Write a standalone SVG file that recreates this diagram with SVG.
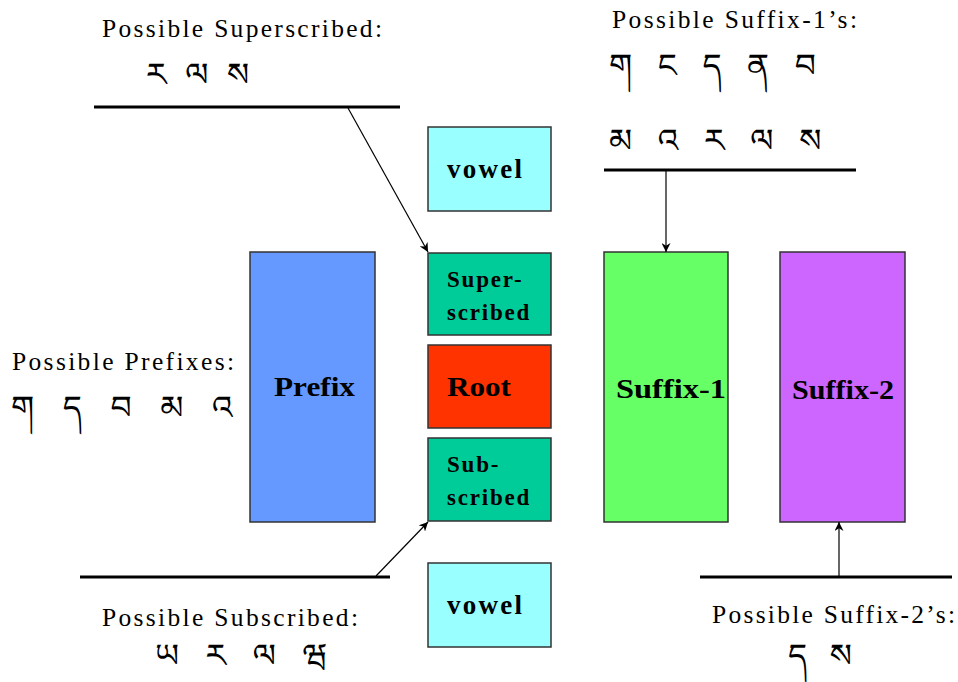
<svg xmlns="http://www.w3.org/2000/svg" width="958" height="682" viewBox="0 0 958 682">
  <style>
    .cap { font-family: "Liberation Serif", "Times New Roman", serif; font-size: 25.5px; fill: #000; }
    .tib { font-family: "Noto Serif Tibetan", "Noto Sans Tibetan", "Jomolhari", "Microsoft Himalaya", "DejaVu Sans", serif; font-size: 33px; fill: #000; }
    .lbl { font-family: "Liberation Serif", "Times New Roman", serif; font-weight: bold; font-size: 27px; fill: #000; }
    .lbs { font-family: "Liberation Serif", "Times New Roman", serif; font-weight: bold; font-size: 23px; fill: #000; letter-spacing: 1.8px; }
    .box { stroke: #333; stroke-width: 1.5; }
    .rule { stroke: #000; stroke-width: 3; fill: none; }
    .link { stroke: #000; stroke-width: 1.2; fill: none; marker-end: url(#ah); }
  </style>
  <defs>
    <marker id="ah" viewBox="0 0 10 10" refX="10" refY="5" markerWidth="9" markerHeight="9" markerUnits="userSpaceOnUse" orient="auto">
      <path d="M0,0 L10,5 L0,10 L3,5 z" fill="#000"/>
    </marker>
  </defs>

  <!-- letter-position boxes -->
  <g id="prefix">
    <rect class="box" x="250" y="252" width="125" height="270" fill="#6699FF"/>
    <text class="lbl" x="274" y="396" textLength="81" lengthAdjust="spacingAndGlyphs">Prefix</text>
  </g>
  <g id="vowel-top">
    <rect class="box" x="428" y="127" width="123" height="84" fill="#99FFFF"/>
    <text class="lbl" x="447" y="178" font-size="25" textLength="75" lengthAdjust="spacing">vowel</text>
  </g>
  <g id="superscribed">
    <rect class="box" x="428" y="253" width="123" height="82" fill="#00CC99"/>
    <text class="lbs" x="447" y="287">Super-</text>
    <text class="lbs" x="447" y="320">scribed</text>
  </g>
  <g id="root">
    <rect class="box" x="428" y="345" width="123" height="83" fill="#FF3300"/>
    <text class="lbl" x="447" y="396" font-size="28" textLength="64" lengthAdjust="spacingAndGlyphs">Root</text>
  </g>
  <g id="subscribed">
    <rect class="box" x="428" y="438" width="123" height="83" fill="#00CC99"/>
    <text class="lbs" x="447" y="472">Sub-</text>
    <text class="lbs" x="447" y="505">scribed</text>
  </g>
  <g id="vowel-bottom">
    <rect class="box" x="428" y="563" width="123" height="84" fill="#99FFFF"/>
    <text class="lbl" x="447" y="614" font-size="25" textLength="75" lengthAdjust="spacing">vowel</text>
  </g>
  <g id="suffix-1">
    <rect class="box" x="604" y="252" width="124" height="270" fill="#66FF66"/>
    <text class="lbl" x="616" y="398" textLength="110" lengthAdjust="spacingAndGlyphs">Suffix-1</text>
  </g>
  <g id="suffix-2">
    <rect class="box" x="780" y="252" width="125" height="270" fill="#CC66FF"/>
    <text class="lbl" x="792" y="399" textLength="102" lengthAdjust="spacingAndGlyphs">Suffix-2</text>
  </g>

  <!-- candidate letter lists -->
  <g id="list-superscribed">
    <text class="cap" x="102" y="37" textLength="280" lengthAdjust="spacing">Possible Superscribed:</text>
    <text class="tib" x="146" y="86" word-spacing="10">ར ལ ས</text>
  </g>
  <g id="list-suffix-1">
    <text class="cap" x="612" y="28" textLength="245" lengthAdjust="spacing">Possible Suffix-1’s:</text>
    <text class="tib" x="609" y="77" word-spacing="17">ག ང ད ན བ</text>
    <text class="tib" x="609" y="152" word-spacing="17">མ འ ར ལ ས</text>
  </g>
  <g id="list-prefixes">
    <text class="cap" x="12" y="370" textLength="222" lengthAdjust="spacing">Possible Prefixes:</text>
    <text class="tib" x="11" y="419" word-spacing="20">ག ད བ མ འ</text>
  </g>
  <g id="list-subscribed">
    <text class="cap" x="102" y="626" textLength="256" lengthAdjust="spacing">Possible Subscribed:</text>
    <text class="tib" x="155" y="667" word-spacing="18">ཡ ར ལ ཝ</text>
  </g>
  <g id="list-suffix-2">
    <text class="cap" x="712" y="623" textLength="243" lengthAdjust="spacing">Possible Suffix-2’s:</text>
    <text class="tib" x="788" y="667" word-spacing="14">ད ས</text>
  </g>

  <!-- connectors -->
  <g id="connectors">
    <line class="rule" x1="94" y1="107" x2="400" y2="107"/>
    <line class="link" x1="348" y1="108" x2="428" y2="252"/>
    <line class="rule" x1="604" y1="170" x2="856" y2="170"/>
    <line class="link" x1="666" y1="171" x2="666" y2="252"/>
    <line class="rule" x1="80" y1="577" x2="390" y2="577"/>
    <line class="link" x1="376" y1="576" x2="428" y2="522"/>
    <line class="rule" x1="700" y1="577" x2="952" y2="577"/>
    <line class="link" x1="839" y1="576" x2="839" y2="522"/>
  </g>
</svg>
